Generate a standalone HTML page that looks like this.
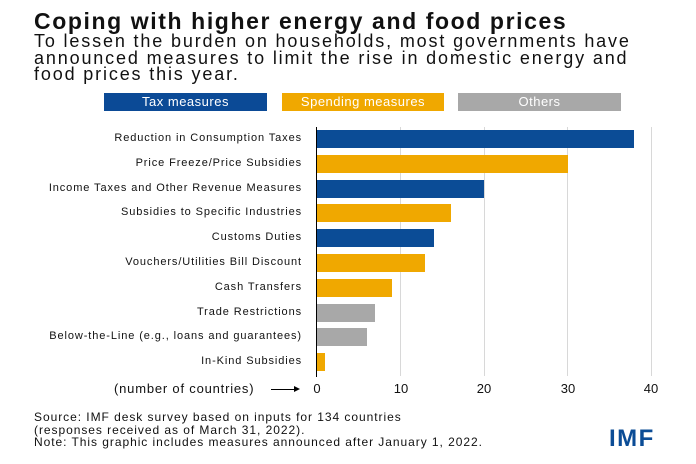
<!DOCTYPE html>
<html><head><style>
body{margin:0;width:696px;height:464px;background:#fff;overflow:hidden;font-family:"Liberation Sans",sans-serif;position:relative;color:#111}
.a{position:absolute;white-space:nowrap}
.lg{position:absolute;top:93px;height:18px;color:#fff;font-size:13px;letter-spacing:0.5px;text-align:center;line-height:18px}
.lab{position:absolute;right:394px;font-size:11px;letter-spacing:0.9px;text-align:right;white-space:nowrap}
.bar{position:absolute;left:317px;height:18px}
.g{position:absolute;top:127px;height:249px;width:1px;background:#d8d8d8}
.t{position:absolute;top:381px;font-size:13px;width:30px;text-align:center}
</style></head><body>
<div class="a" style="left:34px;top:8px;font-size:23px;font-weight:bold;letter-spacing:1.6px">Coping with higher energy and food prices</div>
<div class="a" style="left:34px;top:33px;font-size:18px;letter-spacing:1.85px;line-height:16.5px">To lessen the burden on households, most governments have<br>announced measures to limit the rise in domestic energy and<br>food prices this year.</div>
<div class="lg" style="left:104px;width:163px;background:#0b4a96">Tax measures</div>
<div class="lg" style="left:282px;width:162px;background:#f0a800">Spending measures</div>
<div class="lg" style="left:458px;width:163px;background:#a8a8a8">Others</div>
<div class="g" style="left:400px"></div><div class="g" style="left:484px"></div><div class="g" style="left:567px"></div><div class="g" style="left:651px"></div>
<div style="position:absolute;left:316px;top:127px;width:1px;height:250px;background:#000"></div>
<div class="bar" style="top:130px;width:317px;background:#0b4c96"></div>
<div class="bar" style="top:155px;width:251px;background:#f0a800"></div>
<div class="bar" style="top:180px;width:167px;background:#0b4c96"></div>
<div class="bar" style="top:204px;width:134px;background:#f0a800"></div>
<div class="bar" style="top:229px;width:117px;background:#0b4c96"></div>
<div class="bar" style="top:254px;width:108px;background:#f0a800"></div>
<div class="bar" style="top:279px;width:75px;background:#f0a800"></div>
<div class="bar" style="top:304px;width:58px;background:#a8a8a8"></div>
<div class="bar" style="top:328px;width:50px;background:#a8a8a8"></div>
<div class="bar" style="top:353px;width:8px;background:#f0a800"></div>
<div class="lab" style="top:132px">Reduction in Consumption Taxes</div>
<div class="lab" style="top:157px">Price Freeze/Price Subsidies</div>
<div class="lab" style="top:182px">Income Taxes and Other Revenue Measures</div>
<div class="lab" style="top:206px">Subsidies to Specific Industries</div>
<div class="lab" style="top:231px">Customs Duties</div>
<div class="lab" style="top:256px">Vouchers/Utilities Bill Discount</div>
<div class="lab" style="top:281px">Cash Transfers</div>
<div class="lab" style="top:306px">Trade Restrictions</div>
<div class="lab" style="top:330px">Below-the-Line (e.g., loans and guarantees)</div>
<div class="lab" style="top:355px">In-Kind Subsidies</div>
<div class="a" style="left:114px;top:381px;font-size:13px;letter-spacing:0.8px">(number of countries)</div>
<div style="position:absolute;left:271px;top:389px;width:24px;height:1px;background:#000"></div>
<div style="position:absolute;left:294px;top:386px;border-left:6px solid #000;border-top:3px solid transparent;border-bottom:3px solid transparent"></div>
<div class="t" style="left:302px">0</div><div class="t" style="left:386px">10</div><div class="t" style="left:469px">20</div><div class="t" style="left:553px">30</div><div class="t" style="left:636px">40</div>
<div class="a" style="left:34px;top:411px;font-size:12px;letter-spacing:0.95px;line-height:12.5px">Source: IMF desk survey based on inputs for 134 countries<br>(responses received as of March 31, 2022).<br>Note: This graphic includes measures announced after January 1, 2022.</div>
<div class="a" style="left:609px;top:425px;font-size:24px;font-weight:bold;color:#0b4c96;letter-spacing:1.5px">IMF</div>
</body></html>
